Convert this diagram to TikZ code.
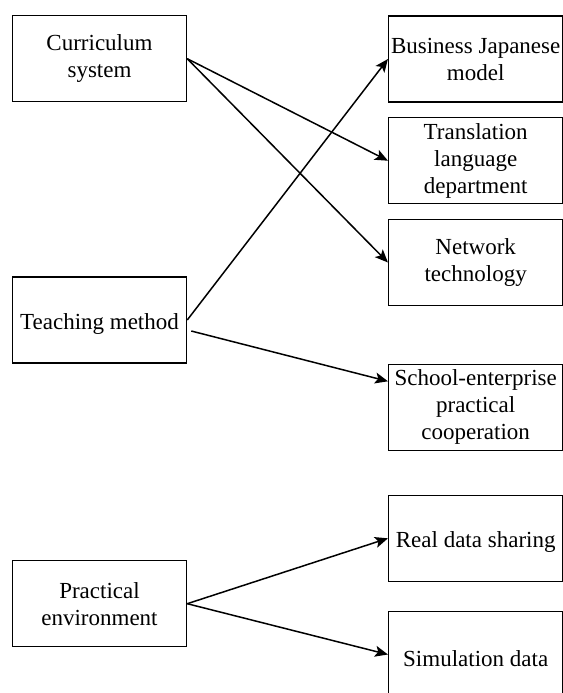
\documentclass[tikz,border=0pt]{standalone}
\usepackage{fontspec}
\setmainfont{Liberation Serif}
\usetikzlibrary{arrows.meta}

\begin{document}
\begin{tikzpicture}[%
      x=0.5pt, y=-0.5pt,
      box/.style={draw, line width=0.75pt, minimum width=87pt, minimum height=43pt,
        inner sep=0pt, align=center, font=\fontsize{11.5}{13.5}\selectfont,
        execute at begin node={\rule{0pt}{12pt}}},
      link/.style={line width=0.75pt, -{Stealth[length=6.5pt,width=5.5pt,inset=1.5pt]}},
      ]
      \clip (0,0) rectangle (563,693);

      % left column
      \node [box] (curr)  at (99.5,58.7)  {Curriculum\\system};
      \node [box] (teach) at (99.5,320)   {Teaching method};
      \node [box] (prac)  at (99.5,603.7) {Practical\\environment};

      % right column
      \node [box] (biz)    at (475.7,59)    {Business Japanese\\model};
      \node [box] (trans)  at (475.7,160.7) {Translation\\language\\department};
      \node [box] (net)    at (475.7,262.5) {Network\\technology};
      \node [box] (school) at (475.7,407.3) {School-enterprise\\practical\\cooperation};
      \node [box] (real)   at (475.7,538.3) {Real data sharing};
      \node [box] (sim)    at (475.7,654.5) {Simulation data};

      \draw [link] (curr.east) -- (trans.west);
      \draw [link] (curr.east) -- (net.west);
      \draw [link] (teach.east) -- (biz.west);
      \draw [link] ([xshift=2pt,yshift=-5.5pt]teach.east) -- ([yshift=13pt]school.west);
      \draw [link] (prac.east) -- (real.west);
      \draw [link] (prac.east) -- (sim.west);
\end{tikzpicture}
\end{document}
